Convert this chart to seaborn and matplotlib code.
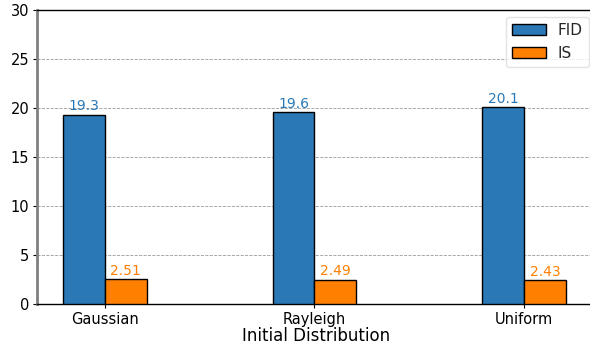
import matplotlib
matplotlib.use("Agg")
import matplotlib.pyplot as plt
import seaborn as sns
import pandas as pd

distributions = ["Gaussian", "Rayleigh", "Uniform"]
fid_values = [19.3, 19.6, 20.1]
is_values = [2.51, 2.49, 2.43]
metrics = ["FID", "IS"]
y_ticks = [0, 5, 10, 15, 20, 25, 30]

df = pd.DataFrame({
    "Initial Distribution": distributions * 2,
    "Score": fid_values + is_values,
    "Metric": ["FID"] * len(fid_values) + ["IS"] * len(is_values),
})

sns.set_theme(style="white")
plt.rcParams["font.family"] = ["DejaVu Sans"]

colors = {"FID": "#2a78b5", "IS": "#ff7f00"}

fig = plt.figure(figsize=(5.9, 3.44), dpi=100)
ax = fig.add_axes([37 / 590, 40 / 344, 559 / 590, 294 / 344])

sns.barplot(data=df, x="Initial Distribution", y="Score", hue="Metric",
            hue_order=metrics, palette=colors, width=0.4, gap=0,
            edgecolor="black", linewidth=1.0, saturation=1, ax=ax, zorder=3)

fmts = {"FID": "%.1f", "IS": "%.2f"}
for container, metric in zip(ax.containers, metrics):
    ax.bar_label(container, fmt=fmts[metric], color=colors[metric],
                 fontsize=10, padding=1)

ax.set_ylim(0, 30)
ax.set_yticks(y_ticks)
ax.set_xlim(-0.324, 2.344)
ax.yaxis.grid(True, linestyle="--", color="gray", linewidth=0.6, alpha=0.8, zorder=0)
ax.set_axisbelow(True)

ax.set_xlabel("Initial Distribution", fontsize=12, color="black", labelpad=0)
ax.set_ylabel("")
ax.tick_params(axis="both", labelsize=10.5, colors="black", length=3,
               width=0.8, left=True, bottom=True, pad=2.5)

for side in ["top", "bottom"]:
    ax.spines[side].set_color("black")
    ax.spines[side].set_linewidth(1.0)
ax.spines["right"].set_visible(False)
ax.spines["left"].set_color("gray")
ax.spines["left"].set_linewidth(2.0)

leg = ax.legend(loc="upper right", fontsize=11, frameon=True,
                handlelength=2.2, bbox_to_anchor=(589 / 590, 1 - 17 / 344),
                bbox_transform=fig.transFigure, borderaxespad=0)
leg.get_frame().set_edgecolor("#dddddd")
leg.set_title(None)

fig.savefig("out.png", dpi=100)
